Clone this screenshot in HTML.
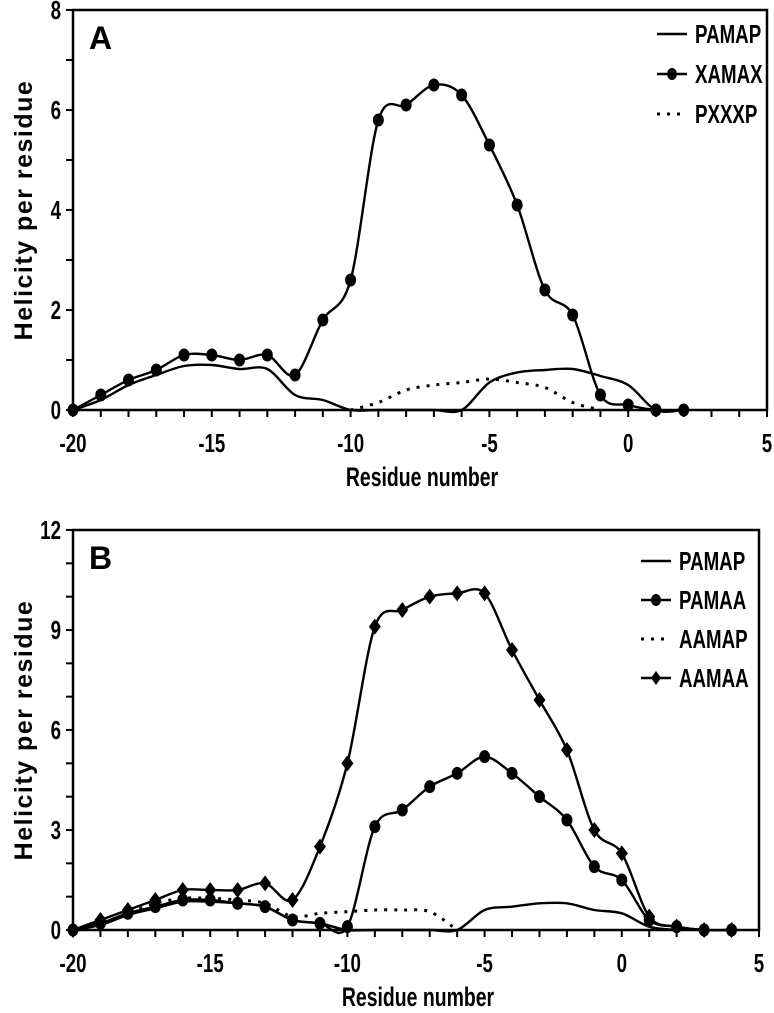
<!DOCTYPE html>
<html><head><meta charset="utf-8"><style>
html,body{margin:0;padding:0;background:#fff;}
svg{display:block;}
text{font-family:"Liberation Sans",sans-serif;font-weight:bold;fill:#000;}
</style></head><body>
<svg id="chart" width="774" height="1013" viewBox="0 0 774 1013" xmlns="http://www.w3.org/2000/svg"></svg>
<script>
// Panel A data
const residuesA = [-20,-19,-18,-17,-16,-15,-14,-13,-12,-11,-10,-9,-8,-7,-6,-5,-4,-3,-2,-1,0,1,2];
const pamapA = [0,0.2,0.5,0.7,0.88,0.9,0.82,0.82,0.3,0.2,0,0,0,0,0,0.55,0.75,0.8,0.82,0.68,0.5,0,0];
const xamaxA = [0,0.3,0.6,0.8,1.1,1.1,1.0,1.1,0.7,1.8,2.6,5.8,6.1,6.5,6.3,5.3,4.1,2.4,1.9,0.3,0.1,0,0];
const pxxxpX = [-10,-9,-8,-7,-6,-5,-4,-3,-2,-1];
const pxxxpA = [0,0.15,0.4,0.5,0.55,0.62,0.55,0.45,0.15,0];
const yTicksA = [0,2,4,6,8];
// Panel B data
const residuesB = [-20,-19,-18,-17,-16,-15,-14,-13,-12,-11,-10,-9,-8,-7,-6,-5,-4,-3,-2,-1,0,1,2,3,4];
const pamaaB = [0,0.2,0.5,0.7,0.9,0.9,0.8,0.7,0.3,0.2,0.1,3.1,3.6,4.3,4.7,5.2,4.7,4.0,3.3,1.9,1.5,0.3,0.1,0,0];
const aamaaB = [0,0.3,0.6,0.9,1.2,1.2,1.2,1.4,0.9,2.5,5.0,9.1,9.6,10.0,10.1,10.1,8.4,6.9,5.4,3.0,2.3,0.4,0.1,0,0];
const pamapBX = [-20,-19,-18,-17,-16,-15,-14,-13,-12,-11,-10,-9,-8,-7,-6,-5,-4,-3,-2,-1,0,1,2];
const pamapB = [0,0.15,0.45,0.65,0.85,0.85,0.8,0.7,0.3,0.2,0,0,0,0,0,0.6,0.7,0.8,0.8,0.6,0.5,0.1,0];
const aamapBX = [-20,-19,-18,-17,-16,-15,-14,-13,-12,-11,-10,-9,-8,-7,-6];
const aamapB = [0,0.2,0.5,0.8,0.95,0.95,0.9,0.8,0.4,0.5,0.55,0.6,0.6,0.55,0];
const yTicksB = [0,3,6,9,12];
const xTicks = [-20,-15,-10,-5,0,5];

const NS="http://www.w3.org/2000/svg";
const svg=document.getElementById('chart');
function mk(tag,attrs,parent){const e=document.createElementNS(NS,tag);for(const k in attrs)e.setAttribute(k,attrs[k]);(parent||svg).appendChild(e);return e;}
function ctext(x,y,size,anchor,str,parent){
  const t=mk('text',{x:0,y:0,'font-size':size,'text-anchor':anchor,transform:`translate(${x},${y}) scale(0.72,1)`},parent);
  t.textContent=str;return t;
}

function smooth(pts){
  let d=`M${pts[0][0]},${pts[0][1]}`;
  for(let i=0;i<pts.length-1;i++){
    const p0=pts[i-1]||pts[i],p1=pts[i],p2=pts[i+1],p3=pts[i+2]||p2;
    const t=0.16;
    const c1x=p1[0]+(p2[0]-p0[0])*t,c1y=p1[1]+(p2[1]-p0[1])*t;
    const c2x=p2[0]-(p3[0]-p1[0])*t,c2y=p2[1]-(p3[1]-p1[1])*t;
    d+=` C${c1x},${c1y} ${c2x},${c2y} ${p2[0]},${p2[1]}`;
  }
  return d;
}

function panel(cfg){
  const g=mk('g',{});
  
  
  const X=v=>cfg.x0+(v-(-20))*(cfg.x1-cfg.x0)/25;
  const Y=v=>cfg.y0-(v)*(cfg.y0-cfg.y1)/cfg.ymax;
  for(let v=-20;v<=5;v++){
    const t=mk('line',{x1:X(v),x2:X(v),y1:cfg.y0,y2:cfg.y0+7,stroke:'#000','stroke-width':2},g);
    
    
  }
  for(let v=0;v<=cfg.ymax;v+=cfg.minor){
    const t=mk('line',{x1:cfg.x0-7,x2:cfg.x0,y1:Y(v),y2:Y(v),stroke:'#000','stroke-width':2},g);
    
    
  }
  xTicks.forEach(v=>{
    const t=ctext(X(v),cfg.y0+42,26,'middle',String(v),g);
    
    
  });
  cfg.yTicks.forEach(v=>{
    const t=ctext(cfg.x0-12,Y(v)+9,26,'end',String(v),g);
    
    
  });
  const xt=ctext((cfg.x0+cfg.x1)/2+2,cfg.y0+76,27,'middle','Residue number',g);
  
  
  const yt=mk('text',{x:0,y:0,'font-size':25,'text-anchor':'middle',transform:`translate(32,${(cfg.y0+cfg.y1)/2}) rotate(-90)`,'letter-spacing':'1.5'},g);
  yt.textContent='Helicity per residue';
  
  
  const lt=mk('text',{x:cfg.x0+16,y:cfg.y1+39,'font-size':32},g);
  lt.textContent=cfg.letter;
  
  
  cfg.series.forEach(s=>{
    const pts=s.xs.map((x,i)=>[X(x),Y(s.ys[i])]);
    const p=mk('path',{d:smooth(pts),fill:'none',stroke:'#000','stroke-width':s.dash?3:2.4,'stroke-dasharray':s.dash?'3,7':'none'},g);
    
    
    if(s.marker){
      pts.forEach(pt=>{
        let m;
        if(s.marker==='circle') m=mk('ellipse',{cx:pt[0],cy:pt[1],rx:5.5,ry:6.5,fill:'#000'},g);
        else m=mk('polygon',{points:`${pt[0]},${pt[1]-8} ${pt[0]+6},${pt[1]} ${pt[0]},${pt[1]+8} ${pt[0]-6},${pt[1]}`,fill:'#000'},g);
        
        
      });
    }
  });
  const fr=mk('rect',{x:cfg.x0,y:cfg.y1,width:cfg.x1-cfg.x0,height:cfg.y0-cfg.y1,fill:'none',stroke:'#000','stroke-width':2.5},g);
  
  
  cfg.series.forEach((s,i)=>{
    const ly=cfg.legY+i*cfg.legDy;
    const lg=mk('g',{},g);
    
    
    mk('line',{x1:cfg.legX,x2:cfg.legX+30,y1:ly,y2:ly,stroke:'#000','stroke-width':s.dash?3:2.4,'stroke-dasharray':s.dash?'3,7':'none'},lg);
    const cx=cfg.legX+15;
    if(s.marker==='circle') mk('ellipse',{cx:cx,cy:ly,rx:5,ry:6,fill:'#000'},lg);
    if(s.marker==='diamond') mk('polygon',{points:`${cx},${ly-7} ${cx+5},${ly} ${cx},${ly+7} ${cx-5},${ly}`,fill:'#000'},lg);
    ctext(cfg.legX+38,ly+9,26,'start',s.label,lg);
  });
}

panel({name:'panel-a',letter:'A',x0:73,x1:767,y0:410,y1:10,ymax:8,minor:1,yTicks:yTicksA,legX:657,legY:34,legDy:40,
  series:[
    {key:'pamap',label:'PAMAP',xs:residuesA,ys:pamapA},
    {key:'xamax',label:'XAMAX',xs:residuesA,ys:xamaxA,marker:'circle'},
    {key:'pxxxp',label:'PXXXP',xs:pxxxpX,ys:pxxxpA,dash:true}
  ]});
panel({name:'panel-b',letter:'B',x0:73,x1:759,y0:930,y1:530,ymax:12,minor:1,yTicks:yTicksB,legX:641,legY:561,legDy:39,
  series:[
    {key:'pamap-b',label:'PAMAP',xs:pamapBX,ys:pamapB},
    {key:'pamaa',label:'PAMAA',xs:residuesB,ys:pamaaB,marker:'circle'},
    {key:'aamap',label:'AAMAP',xs:aamapBX,ys:aamapB,dash:true},
    {key:'aamaa',label:'AAMAA',xs:residuesB,ys:aamaaB,marker:'diamond'}
  ]});
</script>
</body></html>
